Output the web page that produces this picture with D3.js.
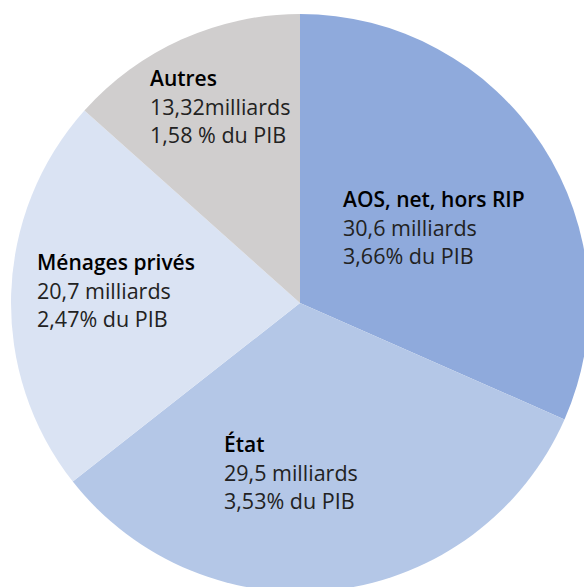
<!DOCTYPE html>
<html><head><meta charset="utf-8">
<script src="https://cdn.jsdelivr.net/npm/d3@7"></script>
<style>body{margin:0;background:#fff;} svg{display:block;}</style>
</head><body>
<svg id="chart" width="584" height="587"></svg>
<script>
const categories = ["AOS, net, hors RIP", "État", "Ménages privés", "Autres"];
// slice sizes as drawn in the reference (share of the circle, %)
const sliceShares = [31.6, 32.8, 22.2, 13.4];
const amountLabels = ["30,6 milliards", "29,5 milliards", "20,7 milliards", "13,32milliards"];
const pibLabels = ["3,66% du PIB", "3,53% du PIB", "2,47% du PIB", "1,58 % du PIB"];

const colors = ["#8faadc", "#b4c7e7", "#dae3f3", "#d0cece"];
const labelPos = [[43, -96], [-76, 149], [-263, -33], [-150, -217]]; // start x, first baseline, relative to centre

const svg = d3.select("#chart");
const cx = 300, cy = 303, r = 289;
const g = svg.append("g").attr("transform", `translate(${cx},${cy})`);

const data = categories.map((c, i) => ({cat: c, value: sliceShares[i], amount: amountLabels[i], pib: pibLabels[i], i}));
const pie = d3.pie().sort(null).value(d => d.value);
const arc = d3.arc().innerRadius(0).outerRadius(r);
const arcs = pie(data);

g.selectAll("path.slice").data(arcs).join("path")
  .attr("class", "slice")
  .attr("d", arc)
  .attr("fill", d => colors[d.data.i]);

const font = "'Open Sans', 'Noto Sans', sans-serif";
const lab = g.selectAll("g.lab").data(arcs).join("g")
  .attr("class", "lab")
  .attr("transform", d => `translate(${labelPos[d.data.i][0]},${labelPos[d.data.i][1]})`);
lab.append("text").text(d => d.data.cat)
  .attr("font-family", font).attr("font-size", 21).attr("font-weight", 600).attr("fill", "#000");
lab.append("text").text(d => d.data.amount).attr("y", 29)
  .attr("font-family", font).attr("font-size", 21.5).attr("font-weight", 400).attr("fill", "#222");
lab.append("text").text(d => d.data.pib).attr("y", 57)
  .attr("font-family", font).attr("font-size", 21.5).attr("font-weight", 400).attr("fill", "#222");
</script>
</body></html>
